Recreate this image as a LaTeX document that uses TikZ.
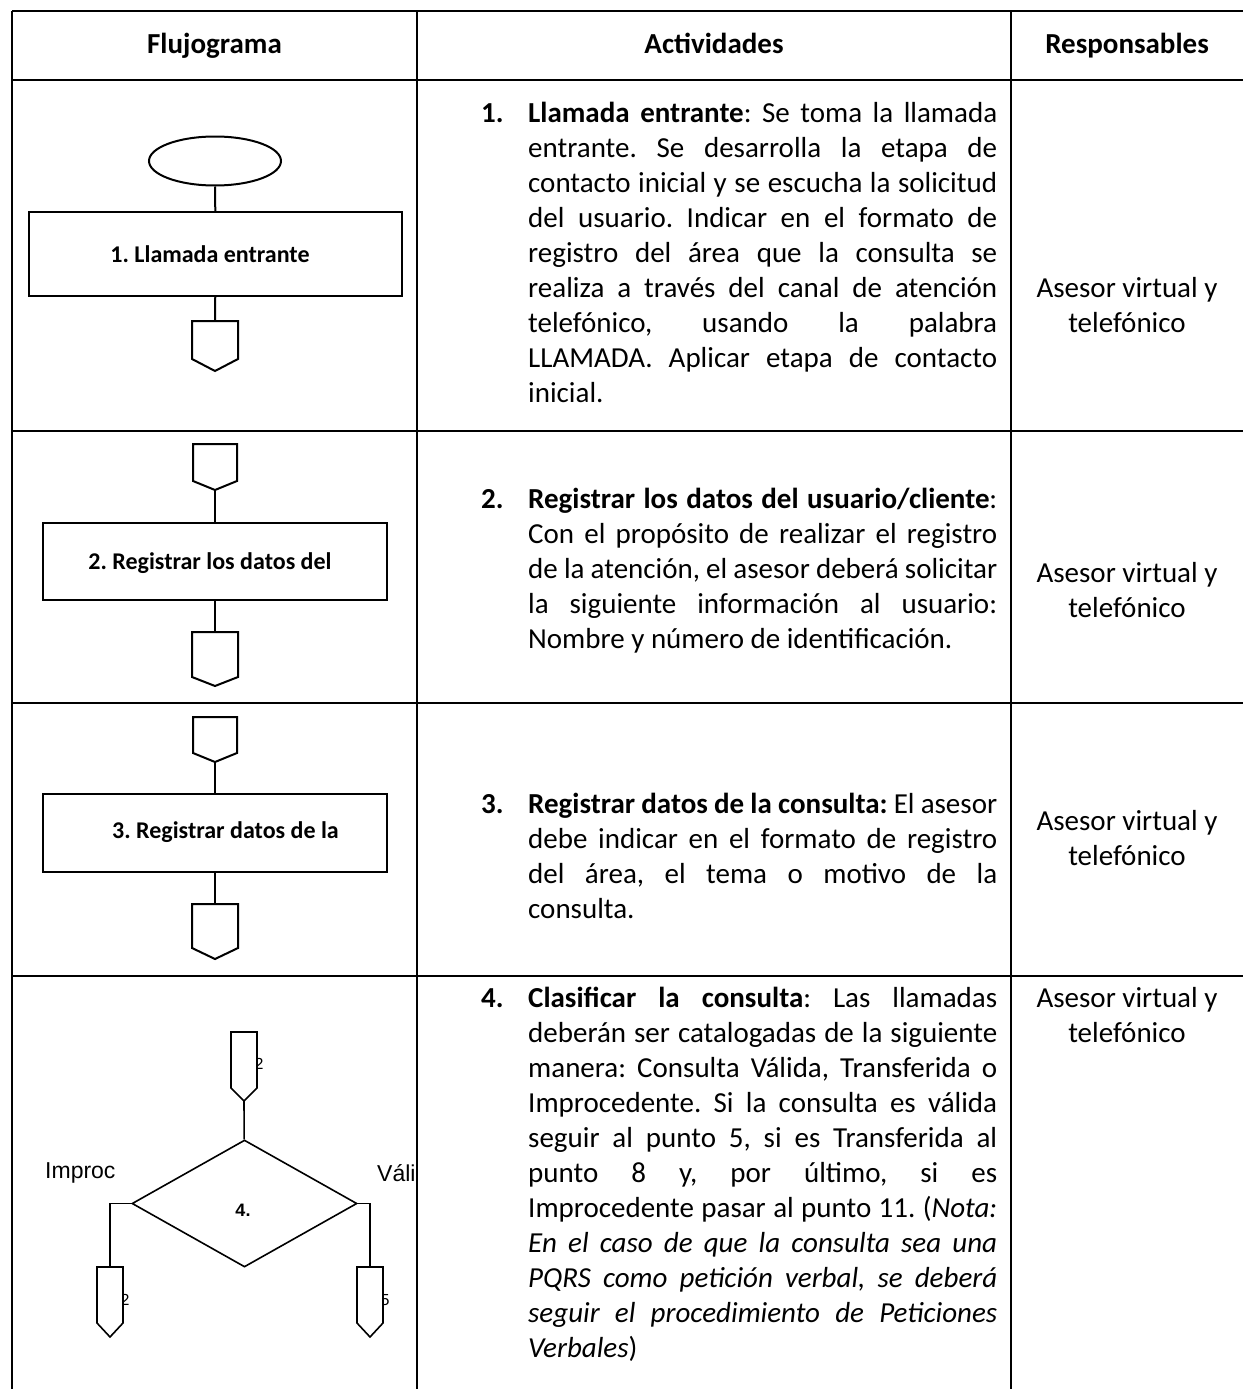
\documentclass[tikz,border=0pt]{standalone}
\usepackage{fontspec}
\setmainfont{Carlito}
\newfontfamily\arialf{Liberation Sans}
\usetikzlibrary{shapes.geometric,calc}
\frenchspacing

\tikzset{
  tbl/.style={line width=2.4pt},
  fl/.style={line width=2pt},
  fls/.style={line width=1.6pt},
  head/.style={anchor=base, inner sep=0, font=\fontsize{29}{35}\selectfont\bfseries},
  act/.style={anchor=base west, inner sep=0, text width=469pt, align=justify,
              font=\fontsize{29}{35}\selectfont},
  resp/.style={anchor=base, inner sep=0, align=center, font=\fontsize{29}{35}\selectfont},
  procbox/.style={draw, fl, rectangle, inner sep=0, outer sep=0},
  boxtxt/.style={anchor=base, inner sep=0, font=\fontsize{24}{28}\selectfont\bfseries},
  offbody/.style={rectangle, inner sep=0, outer sep=0, minimum width=#1},
  armtxt/.style={inner sep=0, font=\arialf\fontsize{23}{27}\selectfont},
  conlab/.style={inner sep=0, font=\arialf\fontsize{16}{18}\selectfont},
}
% off-page connector: pentagon drawn on the body node #2 with a tip of depth #3
\newcommand\offpage[3][fl]{%
  \draw[#1] (#2.north west) -- (#2.south west) -- ($(#2.south)+(0,#3)$) coordinate (#2-tip)
    -- (#2.south east) -- (#2.north east) -- cycle;}
\newcommand\numlab[1]{\llap{\makebox[47pt][l]{\textbf{#1}}}}

\begin{document}
\begin{tikzpicture}[x=1pt,y=-1pt]
\useasboundingbox (0,0) rectangle (1243,1389);

% ---- table grid ----
\draw[tbl] (12,11) -- (1243,11);
\draw[tbl] (12,80) -- (1243,80);
\draw[tbl] (12,431) -- (1243,431);
\draw[tbl] (12,703) -- (1243,703);
\draw[tbl] (12,976) -- (1243,976);
\draw[tbl] (12,11) -- (12,1389);
\draw[tbl] (417,11) -- (417,1389);
\draw[tbl] (1011,11) -- (1011,1389);

% ---- headers ----
\node[head] (h1) at (214.5,53) {Flujograma};
\node[head] (h2) at (714,53) {Actividades};
\node[head] (h3) at (1127,53) {Responsables};

% ---- row 1 flow ----
\node[draw, fl, ellipse, minimum width=132pt, minimum height=49pt, inner sep=0] (start) at (215,161) {};
\node[procbox, minimum width=373pt, minimum height=84pt] (b1) at (215.5,254) {};
\node[boxtxt] (b1t) at (210,262) {1. Llamada entrante};
\node[offbody=46pt, minimum height=38pt] (c1) at (215,340) {};
\offpage{c1}{12}
\draw[fl] (start) -- (b1);
\draw[fl] (b1) -- (c1);

% ---- row 2 flow ----
\node[offbody=44pt, minimum height=37pt] (c2a) at (215,462.5) {};
\offpage{c2a}{9}
\node[procbox, minimum width=344pt, minimum height=77pt] (b2) at (215,561.5) {};
\node[boxtxt] (b2t) at (210,569) {2. Registrar los datos del};
\node[offbody=46pt, minimum height=45pt] (c2b) at (215,654.5) {};
\offpage{c2b}{9}
\draw[fl] (c2a-tip) -- (b2);
\draw[fl] (b2) -- (c2b);

% ---- row 3 flow ----
\node[offbody=44pt, minimum height=36pt] (c3a) at (215,735) {};
\offpage{c3a}{9}
\node[procbox, minimum width=344pt, minimum height=78pt] (b3) at (215,833) {};
\node[boxtxt] (b3t) at (225.5,838) {3. Registrar datos de la};
\node[offbody=46pt, minimum height=44pt] (c3b) at (215,926) {};
\offpage{c3b}{11}
\draw[fl] (c3a-tip) -- (b3);
\draw[fl] (b3) -- (c3b);

% ---- row 4 flow ----
\node[offbody=26pt, minimum height=56pt] (c4) at (244,1060) {};
\offpage[fls]{c4}{13}
\node[draw, fls, diamond, minimum width=225pt, minimum height=127pt, inner sep=0] (d4) at (244.5,1203.5) {};
\node[inner sep=0, font=\arialf\fontsize{18}{22}\selectfont\bfseries] (d4t) at (243,1210) {4.};
\node[offbody=26pt, minimum height=56pt] (c4l) at (110,1295) {};
\offpage[fls]{c4l}{14}
\node[offbody=26pt, minimum height=56pt] (c4r) at (370,1295) {};
\offpage[fls]{c4r}{14}
\draw[fls] (c4-tip) -- (d4);
\draw[fls] (d4.west) -| (c4l);
\draw[fls] (d4.east) -| (c4r);
\node[armtxt, anchor=west] (limp) at (45,1173) {Improc};
\node[armtxt, anchor=west] (lval) at (377,1173) {Váli};
% connector labels, partly hidden behind the connector edge
\begin{scope}
  \clip (256,1050) rectangle (272,1080);
  \node[conlab] (c4n) at (259,1064) {2};
\end{scope}
\begin{scope}
  \clip (122,1285) rectangle (138,1315);
  \node[conlab] (c4ln) at (125,1300) {2};
\end{scope}
\begin{scope}
  \clip (382,1285) rectangle (398,1315);
  \node[conlab] (c4rn) at (385,1300) {5};
\end{scope}

% ---- activities ----
\node[act] (a1) at (528,122) {\numlab{1.}\textbf{Llamada entrante}: Se toma la llamada\linebreak
entrante. Se desarrolla la etapa de\linebreak
contacto inicial y se escucha la solicitud\linebreak
del usuario. Indicar en el formato de\linebreak
registro del área que la consulta se\linebreak
realiza a través del canal de atención\linebreak
telefónico, usando la palabra\linebreak
LLAMADA. Aplicar etapa de contacto\linebreak
inicial.};

\node[act] (a2) at (528,508) {\numlab{2.}\textbf{Registrar los datos del usuario/cliente}:\linebreak
Con el propósito de realizar el registro\linebreak
de la atención, el asesor deberá solicitar\linebreak
la siguiente información al usuario:\linebreak
Nombre y número de identificación.};

\node[act] (a3) at (528,813) {\numlab{3.}\textbf{Registrar datos de la consulta:} El asesor\linebreak
debe indicar en el formato de registro\linebreak
del área, el tema o motivo de la\linebreak
consulta.};

\node[act] (a4) at (528,1007) {\numlab{4.}\textbf{Clasificar la consulta}: Las llamadas\linebreak
deberán ser catalogadas de la siguiente\linebreak
manera: Consulta Válida, Transferida o\linebreak
Improcedente. Si la consulta es válida\linebreak
seguir al punto 5, si es Transferida al\linebreak
punto 8 y, por último, si es\linebreak
Improcedente pasar al punto 11. (\textit{Nota:\linebreak
En el caso de que la consulta sea una\linebreak
PQRS como petición verbal, se deberá\linebreak
seguir el procedimiento de Peticiones\linebreak
Verbales})};

% ---- responsibles (anchored at the baseline of the last line) ----
\node[resp] (r1) at (1127,332) {Asesor virtual y\\telefónico};
\node[resp] (r2) at (1127,617) {Asesor virtual y\\telefónico};
\node[resp] (r3) at (1127,865) {Asesor virtual y\\telefónico};
\node[resp] (r4) at (1127,1042) {Asesor virtual y\\telefónico};
\end{tikzpicture}
\end{document}
